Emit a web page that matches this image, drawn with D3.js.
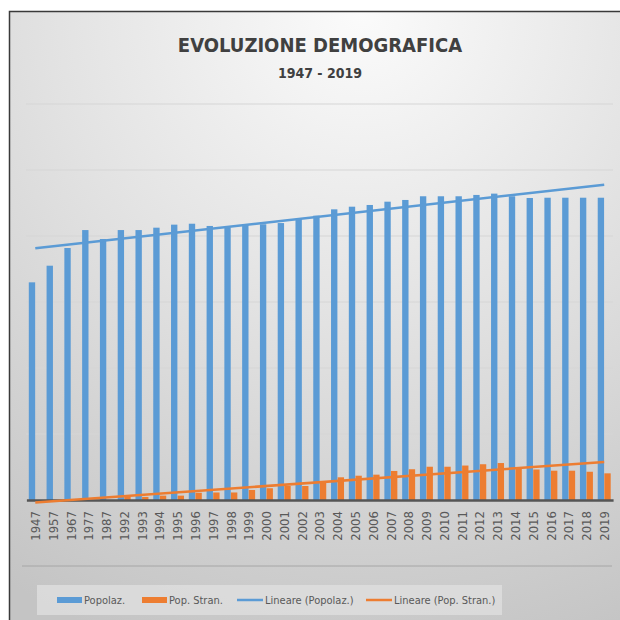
<!DOCTYPE html>
<html>
<head>
<meta charset="utf-8">
<script src="https://cdn.jsdelivr.net/npm/d3@7"></script>
<style>
  body { margin: 0; background: #fff; }
  svg { display: block; }
  text { font-family: "DejaVu Sans Condensed", "Liberation Sans", sans-serif; }
</style>
</head>
<body>
<div id="chart"></div>
<script>
// categories (years) and values
var years = ["1947","1957","1967","1977","1987","1992","1993","1994","1995","1996","1997",
  "1998","1999","2000","2001","2002","2003","2004","2005","2006","2007","2008","2009",
  "2010","2011","2012","2013","2014","2015","2016","2017","2018","2019"];

var popolaz = [1649,1775,1909,2045,1977,2045,2045,2063,2086,2093,2076,
  2066,2089,2089,2098,2129,2154,2202,2222,2235,2260,2273,2301,
  2301,2301,2311,2321,2301,2288,2290,2290,2290,2290];

var popStran = [0,0,0,0,0,27,23,33,33,55,57,
  57,76,89,106,106,139,172,184,192,220,233,252,
  252,261,271,280,240,231,222,222,214,202];

var yTicks = [500,1000,1500,2000,2500,3000];

var legendItems = [
  {label: "Popolaz.", color: "#5b9bd5", type: "bar"},
  {label: "Pop. Stran.", color: "#ed7d31", type: "bar"},
  {label: "Lineare (Popolaz.)", color: "#5b9bd5", type: "line"},
  {label: "Lineare (Pop. Stran.)", color: "#ed7d31", type: "line"}
];

var width = 620, height = 620;
var blue = "#5b9bd5", orange = "#ed7d31";

var svg = d3.select("#chart").append("svg")
  .attr("width", width)
  .attr("height", height);

// background gradient like the office chart style
var defs = svg.append("defs");
var grad = defs.append("radialGradient")
  .attr("id", "bg")
  .attr("cx", "55%").attr("cy", "0%")
  .attr("r", "105%")
  .attr("gradientUnits", "objectBoundingBox");
grad.append("stop").attr("offset", "0%").attr("stop-color", "#fbfbfb");
grad.append("stop").attr("offset", "45%").attr("stop-color", "#e3e3e3");
grad.append("stop").attr("offset", "100%").attr("stop-color", "#c4c4c4");

svg.append("rect")
  .attr("x", 9.5).attr("y", 11.5)
  .attr("width", 640).attr("height", 640)
  .attr("fill", "url(#bg)")
  .attr("stroke", "#3a3a3a")
  .attr("stroke-width", 1.5);

// title
svg.append("text")
  .attr("x", 320).attr("y", 52)
  .attr("text-anchor", "middle")
  .attr("fill", "#404040")
  .style("font-size", "20px")
  .style("font-weight", "bold")
  .text("EVOLUZIONE DEMOGRAFICA");

svg.append("text")
  .attr("x", 320).attr("y", 78)
  .attr("text-anchor", "middle")
  .attr("fill", "#404040")
  .style("font-size", "14px")
  .style("font-weight", "bold")
  .text("1947 - 2019");

/* Scales */
var x = d3.scaleBand()
  .domain(years)
  .range([26.4, 613.1])
  .paddingInner(0.27)
  .paddingOuter(0.135);

var xSeries = d3.scaleBand()
  .domain(["pop", "stran"])
  .range([0, x.bandwidth()])
  .paddingInner(0.04);

var y = d3.scaleLinear()
  .domain([0, 3000])
  .range([500, 104]);

// gridlines
svg.append("g")
  .selectAll("line")
  .data(yTicks)
  .enter().append("line")
  .attr("x1", 26).attr("x2", 613)
  .attr("y1", d => y(d)).attr("y2", d => y(d))
  .attr("stroke", "#d6d6d6")
  .attr("stroke-width", 1.2);

// bars
var groups = svg.append("g")
  .selectAll("g")
  .data(years.map((yr, i) => ({year: yr, pop: popolaz[i], stran: popStran[i]})))
  .enter().append("g")
  .attr("transform", d => `translate(${x(d.year)},0)`);

groups.append("rect")
  .attr("x", xSeries("pop"))
  .attr("width", xSeries.bandwidth())
  .attr("y", d => y(d.pop))
  .attr("height", d => y(0) - y(d.pop))
  .attr("fill", blue);

groups.append("rect")
  .attr("x", xSeries("stran"))
  .attr("width", xSeries.bandwidth())
  .attr("y", d => y(d.stran))
  .attr("height", d => y(0) - y(d.stran))
  .attr("fill", orange);

// x axis
var xAxis = d3.axisBottom(x).tickSize(0).tickPadding(0);
var gx = svg.append("g")
  .attr("transform", `translate(0,${y(0)})`)
  .call(xAxis);
gx.select(".domain")
  .attr("stroke", "#555")
  .attr("stroke-width", 2.5);
gx.selectAll("text")
  .attr("transform", "rotate(-90)")
  .attr("text-anchor", "end")
  .attr("x", -11)
  .attr("y", 0)
  .attr("dy", "0.36em")
  .attr("fill", "#595959")
  .style("font-size", "13px")
  .style("font-family", "'DejaVu Sans Condensed', sans-serif");

// linear trend lines (least squares on category index, as the spreadsheet does)
function trend(values) {
  var n = values.length;
  var xs = d3.range(1, n + 1);
  var mx = d3.mean(xs), my = d3.mean(values);
  var sxy = d3.sum(xs, (v, i) => (v - mx) * (values[i] - my));
  var sxx = d3.sum(xs, v => (v - mx) * (v - mx));
  var b = sxy / sxx, a = my - b * mx;
  return [{year: years[0], v: a + b * 1}, {year: years[n - 1], v: a + b * n}];
}

var line = d3.line()
  .x(d => x(d.year) + x.bandwidth() / 2)
  .y(d => y(d.v));

svg.append("path")
  .attr("d", line(trend(popolaz)))
  .attr("fill", "none")
  .attr("stroke", blue)
  .attr("stroke-width", 2.5);

svg.append("path")
  .attr("d", line(trend(popStran)))
  .attr("fill", "none")
  .attr("stroke", orange)
  .attr("stroke-width", 2.5);

// separator line above the legend
svg.append("line")
  .attr("x1", 22).attr("x2", 612)
  .attr("y1", 566).attr("y2", 566)
  .attr("stroke", "#a6a6a6")
  .attr("stroke-width", 1);

// legend
svg.append("rect")
  .attr("x", 37).attr("y", 585)
  .attr("width", 465).attr("height", 30)
  .attr("fill", "#dedede")
  .attr("opacity", 0.8);

var legendX = [57, 142, 237, 366];
var legend = svg.selectAll(".legend")
  .data(legendItems)
  .enter().append("g")
  .attr("class", "legend")
  .attr("transform", (d, i) => `translate(${legendX[i]},600)`);

legend.filter(d => d.type == "bar").append("rect")
  .attr("x", 0).attr("y", -3)
  .attr("width", 25).attr("height", 6)
  .attr("fill", d => d.color);

legend.filter(d => d.type == "line").append("line")
  .attr("x1", 0).attr("x2", 26)
  .attr("y1", 0).attr("y2", 0)
  .attr("stroke", d => d.color)
  .attr("stroke-width", 2.5);

legend.append("text")
  .attr("x", d => d.type == "bar" ? 27 : 28)
  .attr("y", 0)
  .attr("dy", "0.35em")
  .attr("fill", "#595959")
  .style("font-size", "11px")
  .text(d => d.label);
</script>
</body>
</html>
